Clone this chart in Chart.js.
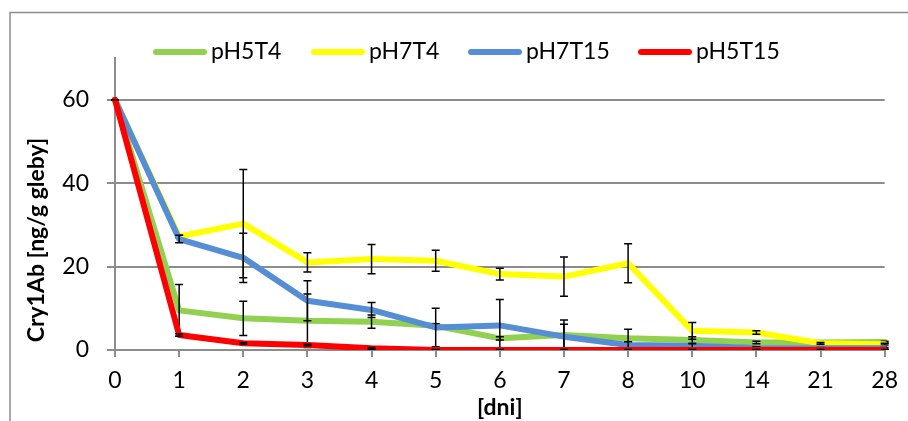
<!DOCTYPE html>
<html>
<head>
<meta charset="utf-8">
<script src="https://cdn.jsdelivr.net/npm/chart.js@4/dist/chart.umd.min.js"></script>
<style>
  html, body { margin: 0; padding: 0; background: #fff; }
  #wrap { width: 908px; height: 421px; position: relative; }
</style>
</head>
<body>
<div id="wrap"><canvas id="c" width="908" height="421"></canvas></div>
<script>
// ---- data ----
const days = ['0', '1', '2', '3', '4', '5', '6', '7', '8', '10', '14', '21', '28'];
const seriesNames = ['pH5T4', 'pH7T4', 'pH7T15', 'pH5T15'];
const pH5T4  = [60, 9.5, 7.6, 7.0, 6.8, 5.8, 2.8, 3.6, 2.8, 2.4, 1.8, 1.8, 1.9];
const pH7T4  = [60, 27.2, 30.3, 21.0, 21.8, 21.4, 18.2, 17.6, 20.8, 4.6, 4.2, 1.6, 1.4];
const pH7T15 = [60, 26.6, 22.1, 11.8, 9.6, 5.4, 5.9, 3.2, 1.2, 1.0, 0.5, 0.4, 0.4];
const pH5T15 = [60, 3.6, 1.6, 1.2, 0.4, 0, 0, 0, 0, 0, 0, 0, 0];
const errPH5T4  = [0, 6.2, 4.1, 6.4, 1.6, 0.5, 0.4, 3.6, 2.2, 0.8, 0.3, 0.2, 0.2];
const errPH7T4  = [0, 0.3, 13.0, 2.3, 3.5, 2.5, 1.4, 4.7, 4.7, 2.0, 0.4, 0.2, 0.2];
const errPH7T15 = [0, 0.9, 5.9, 4.8, 1.8, 4.6, 6.2, 3.0, 0.8, 0.5, 0.3, 0.2, 0.2];
const errPH5T15 = [0, 0.3, 0.2, 0.2, 0.2, 0.1, 0.1, 0.1, 0.1, 0.1, 0.1, 0.1, 0.1];
const yTicks = [0, 20, 40, 60];
const yTitle = 'Cry1Ab [ng/g gleby]';
const xTitle = '[dni]';

const colors = ['#92D050', '#FFFF00', '#558ED5', '#FF0000'];
const values = [pH5T4, pH7T4, pH7T15, pH5T15];
const errors = [errPH5T4, errPH7T4, errPH7T15, errPH5T15];

const FONT = 'Lato, "Open Sans", sans-serif';
const legendStarts = [153, 311, 468, 638];

const datasets = values.map((v, i) => ({
  label: seriesNames[i],
  data: v,
  borderColor: colors[i],
  backgroundColor: colors[i],
  borderWidth: 6,
  pointRadius: 0,
  tension: 0,
  borderJoinStyle: 'round',
  borderCapStyle: 'round',
  order: values.length - 1 - i,
  errors: errors[i]
}));

const extras = {
  id: 'extras',
  beforeDraw(chart) {
    const ctx = chart.ctx;
    ctx.save();
    ctx.strokeStyle = '#8c8c8c';
    ctx.lineWidth = 1.5;
    ctx.beginPath();
    ctx.moveTo(10, 421);
    ctx.lineTo(10, 12.5);
    ctx.lineTo(908, 12.5);
    ctx.stroke();
    ctx.restore();
  },
  afterDatasetDraw(chart, args) {
    const ds = chart.data.datasets[args.index];
    const meta = args.meta;
    const ys = chart.scales.y;
    const ca = chart.chartArea;
    const ctx = chart.ctx;
    ctx.save();
    ctx.beginPath();
    ctx.rect(ca.left - 6, ca.top, ca.right - ca.left + 12, ca.bottom - ca.top);
    ctx.clip();
    ctx.strokeStyle = '#000';
    ctx.lineWidth = 1.5;
    ds.data.forEach((v, i) => {
      const e = ds.errors[i];
      const x = meta.data[i].x;
      const yt = ys.getPixelForValue(v + e);
      const yb = ys.getPixelForValue(v - e);
      ctx.beginPath();
      ctx.moveTo(x, yt); ctx.lineTo(x, yb);
      ctx.moveTo(x - 4, yt); ctx.lineTo(x + 4, yt);
      ctx.moveTo(x - 4, yb); ctx.lineTo(x + 4, yb);
      ctx.stroke();
    });
    ctx.restore();
  },
  afterDraw(chart) {
    const ctx = chart.ctx;
    ctx.save();
    // legend
    ctx.font = '23px ' + FONT;
    ctx.textBaseline = 'middle';
    ctx.fillStyle = '#000';
    const y = 52;
    chart.data.datasets.forEach((ds, i) => {
      const x = legendStarts[i];
      ctx.strokeStyle = ds.borderColor;
      ctx.lineWidth = 6;
      ctx.lineCap = 'round';
      ctx.beginPath();
      ctx.moveTo(x + 3, y); ctx.lineTo(x + 51, y);
      ctx.stroke();
      ctx.fillText(ds.label, x + 58, y);
    });
    // y title
    ctx.font = 'bold 23px ' + FONT;
    ctx.textAlign = 'center';
    ctx.translate(37, 240);
    ctx.rotate(-Math.PI / 2);
    ctx.fillText(yTitle, 0, 0);
    ctx.restore();
  }
};

new Chart(document.getElementById('c'), {
  type: 'line',
  data: { labels: days, datasets },
  options: {
    responsive: false,
    animation: false,
    layout: { padding: { top: 58, right: 20, left: 0, bottom: 0 } },
    plugins: { legend: { display: false }, tooltip: { enabled: false } },
    scales: {
      x: {
        offset: false,
        grid: { drawOnChartArea: false, drawTicks: true, tickLength: 7, color: '#8c8c8c', lineWidth: 2 },
        border: { display: true, color: '#8c8c8c', width: 2 },
        ticks: { color: '#000', font: { family: FONT, size: 23 }, padding: 10, autoSkip: false, maxRotation: 0 },
        title: { display: true, text: xTitle, color: '#000', font: { family: FONT, size: 23, weight: 'bold' }, padding: { top: 0, bottom: 0 } },
        afterFit(scale) { scale.height = 71; }
      },
      y: {
        min: 0, max: 70,
        afterBuildTicks(scale) { scale.ticks = yTicks.map(v => ({ value: v })); },
        grid: { color: '#8c8c8c', lineWidth: 2, tickLength: 8, drawTicks: true },
        border: { display: true, color: '#8c8c8c', width: 2 },
        ticks: { color: '#000', font: { family: FONT, size: 23 }, padding: 18 },
        afterFit(scale) { scale.width = 115; }
      }
    }
  },
  plugins: [extras]
});
</script>
</body>
</html>
